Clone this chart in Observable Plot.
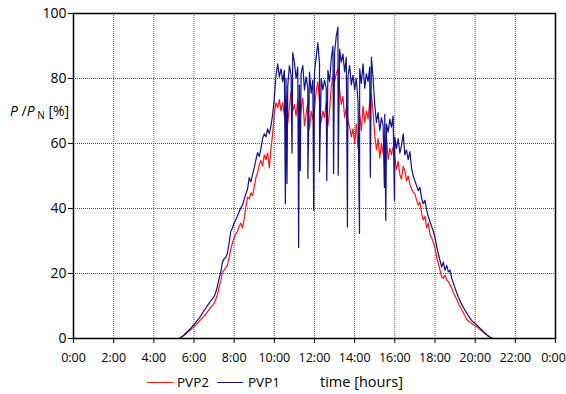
<!DOCTYPE html>
<html>
<head>
<meta charset="utf-8">
<script src="https://cdn.jsdelivr.net/npm/d3@7"></script>
<script src="https://cdn.jsdelivr.net/npm/@observablehq/plot@0.6"></script>
<style>
  html, body { margin: 0; padding: 0; background: #fff; }
  #wrap { position: relative; width: 566px; height: 394px; font-family: "Open Sans", sans-serif; }
  #legend { position: absolute; left: 0; top: 370px; width: 566px; height: 24px; font-size: 13.5px; color: #000; }
  .item { position: absolute; top: 3px; line-height: 18px; white-space: nowrap; }
  .swatch { position: absolute; top: 12px; height: 0; border-top: 1.3px solid; }
</style>
</head>
<body>
<div id="wrap">
  <div id="chart"></div>
  <div id="legend"></div>
</div>
<script>
// ---- data ----
const xTicks = [0, 2, 4, 6, 8, 10, 12, 14, 16, 18, 20, 22, 24];
const hourLabels = ["0:00","2:00","4:00","6:00","8:00","10:00","12:00","14:00","16:00","18:00","20:00","22:00","0:00"];
const yTicks = [0, 20, 40, 60, 80, 100];
const seriesNames = ["PVP2", "PVP1"];
const seriesColors = ["#ff1414", "#10108c"];

// samples every 5 minutes from 5:00 to 21:00
const sampleStartHour = 5;
const sampleStepMinutes = 5;

// PVP1 [% of nominal power]
const pvp1 = [
  0, 0, 0, 0, 0.3, 0.7, 1.1, 1.6, 2.1, 2.6, 3.1, 3.7,                 // 5h
  4.3, 4.9, 5.6, 6.2, 6.9, 7.8, 8.6, 9.3, 10.1, 10.8, 11.6, 12.2,     // 6h
  12.9, 14.2, 16.0, 18.5, 20.5, 23.5, 24.5, 25.0, 26.3, 29.5, 33.0, 34.0, // 7h
  35.6, 36.5, 37.8, 39.0, 40.2, 41.0, 42.8, 44.5, 46.0, 49.5, 48.2, 50.5, // 8h
  52.5, 55.0, 57.2, 56.0, 58.5, 61.5, 63.0, 62.0, 64.5, 63.0, 65.5, 69.0, // 9h
  74.0, 81.0, 84.5, 80.5, 83.0, 79.0, 82.5, 80.0, 77.5, 84.0, 81.0, 88.0, // 10h
  85.0, 80.0, 83.5, 78.0, 81.5, 84.0, 76.5, 80.5, 77.0, 82.0, 75.5, 79.5, // 11h
  82.0, 86.5, 91.0, 84.5, 80.0, 76.5, 79.5, 77.0, 82.5, 79.0, 86.0, 90.0, // 12h
  88.0, 93.0, 95.8, 89.0, 85.0, 87.5, 82.0, 86.5, 80.5, 84.0, 78.0, 81.0, // 13h
  76.5, 80.0, 73.0, 83.0, 78.5, 84.5, 77.0, 81.5, 79.0, 83.5, 86.5, 80.0, // 14h
  72.0, 66.5, 69.5, 64.0, 68.0, 65.5, 69.0, 66.0, 63.5, 67.5, 65.0, 68.5, // 15h
  62.0, 58.5, 61.5, 57.0, 59.5, 63.0, 56.5, 58.0, 55.0, 57.5, 52.5, 50.0, // 16h
  48.5, 47.0, 45.5, 46.5, 43.0, 41.5, 42.5, 39.5, 37.5, 36.0, 34.5, 33.0, // 17h
  31.0, 28.5, 26.0, 24.0, 22.0, 23.5, 21.0, 22.5, 20.5, 21.0, 18.5, 17.0, // 18h
  15.5, 14.0, 12.8, 11.5, 10.5, 9.5, 8.6, 7.8, 7.0, 6.2, 5.5, 5.0,       // 19h
  4.6, 4.1, 3.6, 3.1, 2.6, 2.1, 1.6, 1.2, 0.8, 0.4, 0.1, 0,              // 20h
  0                                                                      // 21h
];
// short drops of PVP1 (passing clouds)
const pvp1DropHours  = [10.55, 10.63, 10.88, 11.21, 11.29, 11.67, 11.96, 12.25, 12.61, 12.95, 13.18, 13.64, 14.24, 14.78, 15.48, 15.55, 15.98];
const pvp1DropValues = [41.5, 47.7, 57.0, 28.0, 51.7, 49.3, 39.4, 51.3, 48.6, 50.8, 50.3, 34.3, 32.3, 49.6, 46.5, 36.3, 42.5];

// PVP2 [% of nominal power]
const pvp2 = [
  0, 0, 0, 0, 0.2, 0.5, 0.9, 1.3, 1.8, 2.2, 2.7, 3.2,                  // 5h
  3.6, 4.1, 4.7, 5.2, 5.8, 6.3, 6.8, 7.5, 8.2, 8.9, 9.6, 10.2,         // 6h
  10.8, 12.0, 13.5, 15.8, 17.8, 20.5, 21.0, 21.8, 22.5, 25.0, 27.5, 29.5, // 7h
  31.0, 32.2, 33.0, 34.5, 35.5, 34.0, 36.8, 40.5, 43.5, 43.0, 44.8, 44.0, // 8h
  46.5, 49.5, 51.0, 53.5, 54.8, 53.0, 56.5, 55.0, 57.0, 52.5, 58.5, 63.0, // 9h
  69.5, 72.5, 71.0, 73.5, 70.0, 72.5, 68.5, 74.5, 66.0, 71.5, 76.0, 70.0, // 10h
  72.0, 68.5, 73.5, 66.0, 70.5, 74.0, 65.5, 69.0, 72.5, 64.5, 70.0, 67.5, // 11h
  70.5, 76.0, 79.0, 73.0, 66.5, 70.0, 68.0, 72.5, 65.5, 70.0, 77.5, 80.5, // 12h
  79.0, 81.5, 83.0, 76.5, 72.0, 74.5, 68.0, 71.0, 67.0, 65.0, 62.0, 64.5, // 13h
  60.0, 66.0, 58.5, 69.0, 64.0, 71.5, 66.5, 70.0, 67.5, 73.0, 75.0, 69.5, // 14h
  62.5, 58.0, 61.5, 55.5, 60.0, 57.0, 59.5, 62.0, 55.0, 58.5, 56.5, 59.0, // 15h
  55.5, 52.0, 54.5, 50.5, 49.0, 53.0, 51.5, 48.5, 50.0, 47.5, 46.0, 45.0, // 16h
  44.5, 42.5, 41.0, 42.0, 38.5, 36.5, 37.5, 34.0, 35.5, 32.0, 31.0, 29.5, // 17h
  28.0, 25.0, 23.0, 21.0, 19.0, 18.5, 19.5, 18.0, 17.5, 16.5, 15.5, 14.0, // 18h
  13.0, 12.0, 10.8, 9.8, 8.8, 7.8, 6.9, 5.8, 5.4, 5.0, 4.6, 4.2,         // 19h
  4.0, 3.6, 3.2, 2.7, 2.3, 1.8, 1.4, 1.0, 0.6, 0.3, 0.1, 0,              // 20h
  0                                                                      // 21h
];
// night: zero output
const nightHours = [0, 24];
const nightValues = [0, 0];

// ---- build tables ----
function buildSeries(values, extraHours, extraValues, name) {
  const rows = values.map((v, i) => ({hour: sampleStartHour + i * sampleStepMinutes / 60, value: v, series: name}));
  nightHours.forEach((h, i) => rows.push({hour: h, value: nightValues[i], series: name}));
  (extraHours || []).forEach((h, i) => rows.push({hour: h, value: extraValues[i], series: name}));
  return rows.sort((a, b) => a.hour - b.hour);
}
const rowsP2 = buildSeries(pvp2, null, null, seriesNames[0]);
const rowsP1 = buildSeries(pvp1, pvp1DropHours, pvp1DropValues, seriesNames[1]);

const fmtHour = d => hourLabels[xTicks.indexOf(d)];

const chart = Plot.plot({
  width: 566,
  height: 370,
  marginLeft: 73,
  marginRight: 11,
  marginTop: 13,
  marginBottom: 32,
  style: {fontFamily: "Open Sans", fontSize: "12.5px", color: "#000", background: "#fff", overflow: "visible"},
  x: {domain: [0, 24]},
  y: {domain: [0, 100]},
  marks: [
    Plot.gridX(xTicks.slice(1, -1), {stroke: "#555", strokeOpacity: 1, strokeDasharray: "1,1"}),
    Plot.gridY(yTicks.slice(1, -1), {stroke: "#555", strokeOpacity: 1, strokeDasharray: "1,1"}),
    Plot.line(rowsP2, {x: "hour", y: "value", stroke: seriesColors[0], strokeWidth: 1.2}),
    Plot.line(rowsP1, {x: "hour", y: "value", stroke: seriesColors[1], strokeWidth: 1.2}),
    Plot.frame({stroke: "#000", strokeWidth: 1.5}),
    Plot.axisX(xTicks, {tickSize: 5, tickPadding: 10, label: null, text: null}),
    Plot.axisX(xTicks.slice(0, -1), {tickSize: 0, tickPadding: 15, label: null, tickFormat: fmtHour}),
    Plot.axisX(xTicks.slice(-1), {tickSize: 0, tickPadding: 15, label: null, tickFormat: fmtHour, dx: -2}),
    Plot.axisY(yTicks, {tickSize: 5, tickPadding: 2, label: null, fontSize: 14})
  ]
});
document.getElementById("chart").appendChild(chart);

// y axis title: P/P_N [%]
const svg = d3.select(chart);
const t = svg.append("text")
  .attr("x", 10).attr("y", 116)
  .attr("text-anchor", "start")
  .attr("font-family", "Open Sans").attr("font-size", 14).attr("fill", "#000");
t.append("tspan").attr("font-style", "italic").text("P");
t.append("tspan").text(" /");
t.append("tspan").attr("font-style", "italic").text("P");
t.append("tspan").attr("font-size", 10).attr("dy", 3).text(" N");
t.append("tspan").attr("font-size", 14).attr("dy", -3).text(" [%]");

// legend
const legend = document.getElementById("legend");
const legendItems = [
  {name: seriesNames[0], color: seriesColors[0], lineX: 147, textX: 177},
  {name: seriesNames[1], color: seriesColors[1], lineX: 217, textX: 248}
];
legendItems.forEach(it => {
  const sw = document.createElement("div");
  sw.className = "swatch";
  sw.style.left = it.lineX + "px";
  sw.style.width = "26px";
  sw.style.borderTopColor = it.color;
  legend.appendChild(sw);
  const tx = document.createElement("div");
  tx.className = "item";
  tx.style.left = it.textX + "px";
  tx.textContent = it.name;
  legend.appendChild(tx);
});
const xt = document.createElement("div");
xt.className = "item";
xt.style.left = "320px";
xt.style.fontSize = "14.5px";
xt.textContent = "time [hours]";
legend.appendChild(xt);
</script>
</body>
</html>
